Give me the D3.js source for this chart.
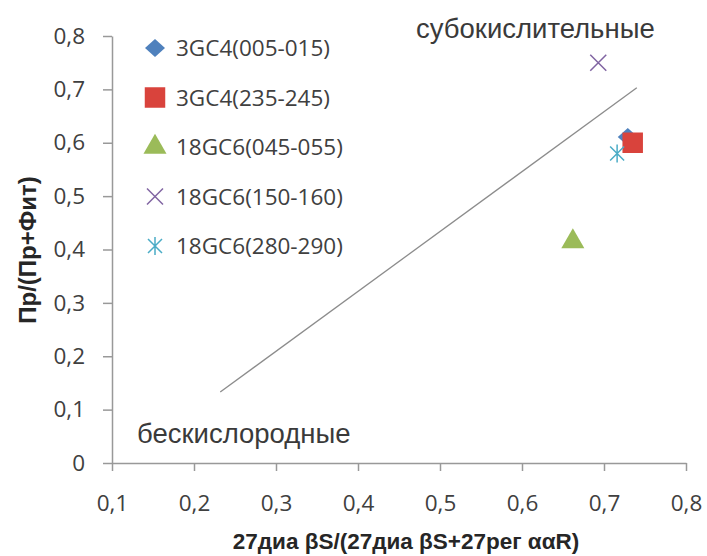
<!DOCTYPE html>
<html>
<head>
<meta charset="utf-8">
<script src="https://cdn.jsdelivr.net/npm/d3@7"></script>
<style>
  body { margin: 0; background: #fff; }
  svg { display: block; font-family: "Open Sans", sans-serif; }
  .axis path, .axis line { stroke: #999; stroke-width: 1.5; }
  .axis text { fill: #404040; font-size: 22.5px; font-family: "Open Sans", sans-serif; }
  .title { font-weight: bold; font-size: 22.5px; fill: #262626; font-family: "Liberation Sans", Arial, sans-serif; }
  .note { font-size: 27.5px; fill: #3a3a3a; font-family: "Liberation Sans", Arial, sans-serif; }
  .legend text { font-size: 22.5px; fill: #404040; }
</style>
</head>
<body>
<div id="chart"></div>
<script>
/* series, one point each */
var seriesNames = ["3GC4(005-015)", "3GC4(235-245)", "18GC6(045-055)", "18GC6(150-160)", "18GC6(280-290)"];
var seriesX = [0.729, 0.735, 0.662, 0.693, 0.716];
var seriesY = [0.611, 0.600, 0.415, 0.750, 0.580];
var seriesShapes = ["diamond", "square", "triangle", "cross", "star"];
var seriesColors = ["#4f81bd", "#d9433c", "#9bbb59", "#8064a2", "#4bacc6"];

/* dividing line between the two fields */
var lineX = [0.232, 0.740];
var lineY = [0.133, 0.703];

var xTicks = [0.1, 0.2, 0.3, 0.4, 0.5, 0.6, 0.7, 0.8];
var yTicks = [0, 0.1, 0.2, 0.3, 0.4, 0.5, 0.6, 0.7, 0.8];

var width = 707, height = 556;
var margin = {top: 36, right: 21, bottom: 93, left: 112};

function translate(x, y) {
    return "translate(" + x + "," + y + ")";
}

function comma(d) {
    return d === 0 ? "0" : d3.format(".1f")(d).replace(".", ",");
}

var x = d3.scaleLinear()
    .domain([0.1, 0.8])
    .range([margin.left, width - margin.right]);

var y = d3.scaleLinear()
    .domain([0, 0.8])
    .range([height - margin.bottom, margin.top]);

var svg = d3.select("#chart")
  .append("svg")
    .attr("width", width)
    .attr("height", height);

/* axes: only left and bottom lines, outside ticks */
svg.append("g")
    .attr("class", "x axis")
    .attr("transform", translate(0, y(0)))
    .call(d3.axisBottom(x).tickValues(xTicks).tickFormat(comma).tickSize(8).tickSizeOuter(0).tickPadding(24));

svg.append("g")
    .attr("class", "y axis")
    .attr("transform", translate(x(0.1), 0))
    .call(d3.axisLeft(y).tickValues(yTicks).tickFormat(comma).tickSize(9).tickSizeOuter(0).tickPadding(18));

/* trend line */
svg.append("line")
    .attr("x1", x(lineX[0])).attr("y1", y(lineY[0]))
    .attr("x2", x(lineX[1])).attr("y2", y(lineY[1]))
    .attr("stroke", "#8c8c8c")
    .attr("stroke-width", 1.3);

/* marker drawing */
function marker(g, shape, color) {
    if (shape === "cross") {
        g.append("path").attr("d", "M-8,-8L8,8M-8,8L8,-8")
            .attr("stroke", color).attr("stroke-width", 1.5).attr("fill", "none");
    } else if (shape === "star") {
        g.append("path").attr("d", "M-7,-7L7,7M-7,7L7,-7M0,-9L0,9")
            .attr("stroke", color).attr("stroke-width", 1.5).attr("fill", "none");
    } else if (shape === "diamond") {
        g.append("path").attr("d", "M0,-9L10,0L0,9L-10,0Z").attr("fill", color);
    } else {
        var sym = {square: d3.symbolSquare, triangle: d3.symbolTriangle}[shape];
        var size = {square: 420, triangle: 230}[shape];
        g.append("path").attr("d", d3.symbol().type(sym).size(size)()).attr("fill", color);
    }
}

/* points (drawing order as in the source) */
seriesNames.forEach(function(name, i) {
    var g = svg.append("g").attr("transform", translate(x(seriesX[i]), y(seriesY[i])));
    marker(g, seriesShapes[i], seriesColors[i]);
});

/* legend */
var legend = svg.append("g").attr("class", "legend");
seriesNames.forEach(function(name, i) {
    var row = legend.append("g").attr("transform", translate(155, 48 + i * 49.5));
    marker(row, seriesShapes[i], seriesColors[i]);
    row.append("text").attr("x", 21).attr("dy", "0.36em").text(name);
});

/* field labels */
svg.append("text").attr("class", "note")
    .attr("x", 416).attr("y", 38)
    .text("субокислительные");
svg.append("text").attr("class", "note")
    .attr("x", 137).attr("y", 443)
    .text("бескислородные");

/* axis titles */
svg.append("text").attr("class", "title")
    .attr("text-anchor", "middle")
    .attr("x", 406).attr("y", 549)
    .text("27диа βS/(27диа βS+27рег ααR)");

svg.append("text").attr("class", "title")
    .attr("text-anchor", "middle")
    .style("font-size", "24px")
    .attr("transform", translate(36, 250) + " rotate(-90)")
    .text("Пр/(Пр+Фит)");
</script>
</body>
</html>
